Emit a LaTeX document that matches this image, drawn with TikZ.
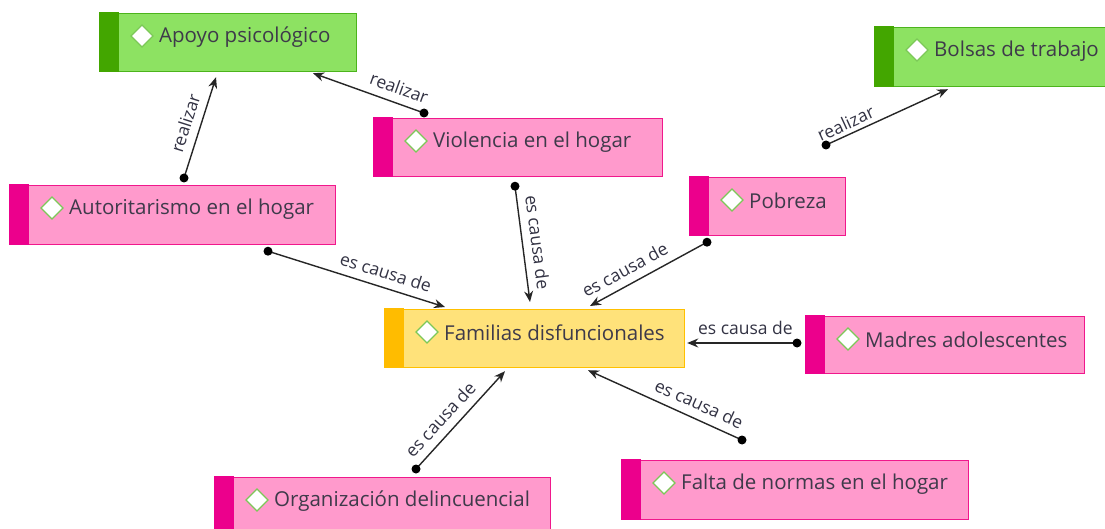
\documentclass[tikz,border=0pt]{standalone}
\usepackage{fontspec}
\setmainfont{Open Sans}
\usetikzlibrary{arrows.meta,calc}
\definecolor{greenF}{HTML}{8DE262}
\definecolor{greenB}{HTML}{4CB41C}
\definecolor{greenS}{HTML}{43A600}
\definecolor{pinkF}{HTML}{FF9ACC}
\definecolor{pinkB}{HTML}{F0188C}
\definecolor{pinkS}{HTML}{EC008C}
\definecolor{yelF}{HTML}{FFE27A}
\definecolor{yelB}{HTML}{FFC000}
\definecolor{yelS}{HTML}{FFBC00}
\definecolor{txtC}{HTML}{3E3A4A}
\definecolor{lblC}{HTML}{333344}
\definecolor{diaB}{HTML}{7CC858}
\tikzset{
  x=1pt, y=-1pt,
  cbox/.style={rectangle, draw, line width=1.2pt, inner sep=0pt, anchor=north west},
  ctext/.style={anchor=west, inner sep=0pt, text=txtC, font=\fontsize{20.5}{24}\selectfont},
  diam/.style={draw=diaB, fill=white, line width=1.3pt, line join=miter},
  conn/.style={line width=1.4pt, draw=black!85, -{Stealth[length=11pt,width=9pt]}},
  dotc/.style={fill=black},
  lbl/.style={sloped, above, inner xsep=2pt, inner ysep=8pt, text=lblC, font=\fontsize{17.5}{20}\selectfont}
}
% name, fill, border, strip, left, top, right, bottom, text
\newcommand\conceptbox[9]{%
  \node[cbox, fill=#2, draw=#3, minimum width={#7-#5}, minimum height={#8-#6}] (#1) at (#5,#6) {};
  \fill[#4] ({#5-0.6},{#6-0.6}) rectangle ({#5+19},{#8+0.6});
  \draw[diam] ({#5+42},{#6+23}) +(-11,0) -- +(0,-11) -- +(11,0) -- +(0,11) -- cycle;
  \node[ctext] (#1-t) at ({#5+59},{#6+24}) {#9};
}
\begin{document}
\begin{tikzpicture}
\useasboundingbox (0,0) rectangle (1105,529);
\fill[white] (0,0) rectangle (1105,529);

\conceptbox{apoyo}{greenF}{greenB}{greenS}{100}{13}{356}{71}{Apoyo psicológico}
\conceptbox{bolsas}{greenF}{greenB}{greenS}{875}{27}{1112}{86}{Bolsas de trabajo}
\conceptbox{violencia}{pinkF}{pinkB}{pinkS}{374}{118}{662}{176}{Violencia en el hogar}
\conceptbox{auto}{pinkF}{pinkB}{pinkS}{10}{185}{335}{244}{Autoritarismo en el hogar}
\conceptbox{pobreza}{pinkF}{pinkB}{pinkS}{690}{177}{845}{235}{Pobreza}
\conceptbox{familias}{yelF}{yelB}{yelS}{385}{309}{684}{367}{Familias disfuncionales}
\conceptbox{madres}{pinkF}{pinkB}{pinkS}{806}{316}{1084}{373}{Madres adolescentes}
\conceptbox{falta}{pinkF}{pinkB}{pinkS}{622}{460}{968}{519}{Falta de normas en el hogar}
\conceptbox{organiz}{pinkF}{pinkB}{pinkS}{215}{477}{550}{536}{Organización delincuencial}

% connector ends
\coordinate (c1s) at ($(auto.north west)+(174,-7)$);
\coordinate (c1e) at ($(apoyo.south west)+(116,5)$);
\coordinate (c2s) at ($(violencia.north west)+(50,-5)$);
\coordinate (c2e) at ($(apoyo.south west)+(213,1)$);
\coordinate (c3s) at ($(violencia.south west)+(141,9)$);
\coordinate (c3e) at ($(familias.north west)+(145,-7)$);
\coordinate (c4s) at ($(auto.south west)+(258,6)$);
\coordinate (c4e) at ($(familias.north west)+(60,-2)$);
\coordinate (c5s) at ($(pobreza.south west)+(17,6)$);
\coordinate (c5e) at ($(familias.north west)+(205,-3)$);
\coordinate (c6s) at ($(pobreza.north west)+(136,-32)$);
\coordinate (c6e) at ($(bolsas.south west)+(73,2)$);
\coordinate (c7s) at ($(madres.north west)+(-9,27)$);
\coordinate (c7e) at ($(familias.north east)+(2,34)$);
\coordinate (c8s) at ($(falta.north west)+(120,-20)$);
\coordinate (c8e) at ($(familias.south west)+(203,2)$);
\coordinate (c9s) at ($(organiz.north west)+(201,-8)$);
\coordinate (c9e) at ($(familias.south west)+(120,3)$);

\draw[conn] (c1s) -- node[lbl, pos=.5] {realizar} (c1e);
\draw[conn] (c2s) -- node[lbl, pos=.27] {realizar} (c2e);
\draw[conn] (c3s) -- node[lbl, pos=.5] {es causa de} (c3e);
\draw[conn] (c4s) -- node[lbl, pos=.64] {es causa de} (c4e);
\draw[conn] (c5s) -- node[lbl, pos=.64] {es causa de} (c5e);
\draw[conn] (c6s) -- node[lbl, pos=.2, inner ysep=4pt] {realizar} (c6e);
\draw[conn] (c7s) -- node[lbl, pos=.47] {es causa de} (c7e);
\draw[conn] (c8s) -- node[lbl, pos=.32] {es causa de} (c8e);
\draw[conn] (c9s) -- node[lbl, pos=.4] {es causa de} (c9e);
\foreach \d in {c1s,c2s,c3s,c4s,c5s,c6s,c7s,c8s,c9s}
  \fill[dotc] (\d) circle (4.5);
\end{tikzpicture}
\end{document}
